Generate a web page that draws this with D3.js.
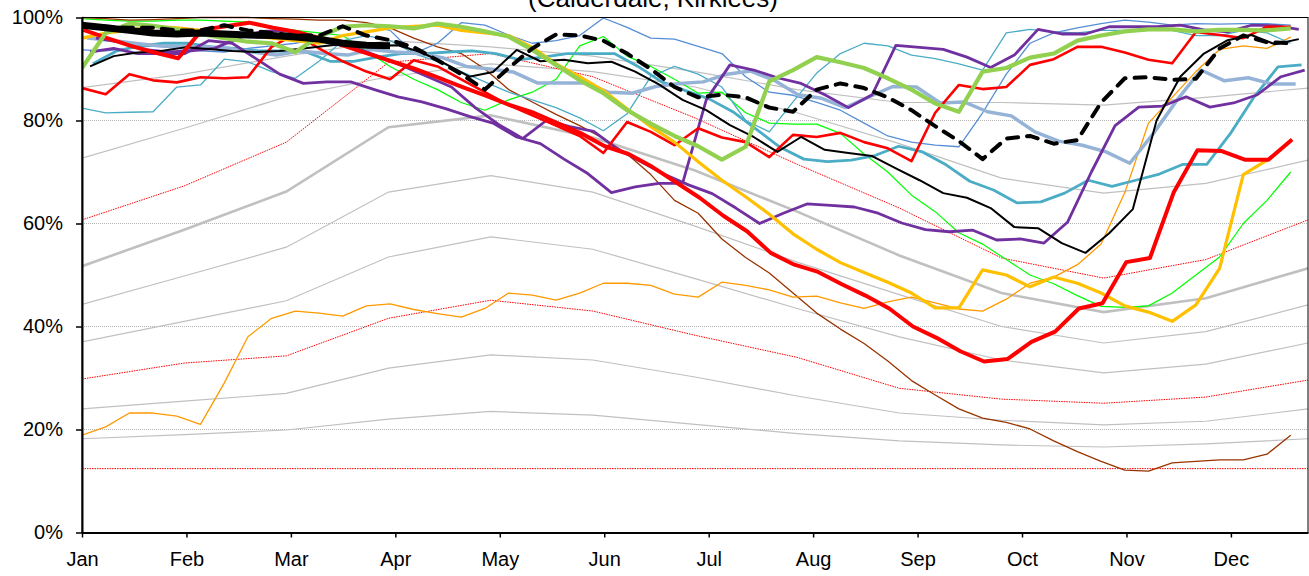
<!DOCTYPE html>
<html>
<head>
<meta charset="utf-8">
<script src="https://cdn.jsdelivr.net/npm/d3@7"></script>
<style>
  body { margin: 0; background: #fff; }
  svg { display: block; font-family: "Liberation Sans", Arial, sans-serif; }
</style>
</head>
<body>
<svg id="chart" width="1309" height="576"></svg>
<script>
// month labels, y ticks
const monthLabels = ["Jan", "Feb", "Mar", "Apr", "May", "Jun", "Jul", "Aug", "Sep", "Oct", "Nov", "Dec"];
const yTicks = [0, 20, 40, 60, 80, 100];

// reference envelope curves (13 points across the year)
const refGrayB = [86.4, 89, 92.5, 95.5, 94.3, 92.5, 89.5, 86, 83.5, 83.5, 83, 84.5, 86.3];
const refGrayC = [72.7, 78.5, 84.6, 88.5, 91, 89.5, 86.5, 81.5, 75.5, 68.8, 65.9, 67.8, 72.3];
const refMedian = [51.7, 58.8, 66.2, 78.7, 81, 76.7, 70.3, 62.3, 53.8, 46.5, 42.8, 45.5, 51.3];
const refGrayD = [44.3, 49.8, 55.4, 66.1, 69.3, 66.1, 59.5, 52.5, 46.2, 40, 36.8, 39, 44.2];
const refGrayE = [37, 41, 45, 53.5, 57.4, 55, 49.3, 43.5, 38, 33.5, 31, 32.7, 36.8];
const refGrayF = [24, 25.5, 27, 31.9, 34.5, 33.5, 30.2, 26.5, 23.2, 21.8, 20.9, 21.6, 24];
const refGrayG = [18.2, 19, 19.9, 22, 23.5, 22.8, 21, 19.2, 17.8, 17, 16.6, 17.2, 18.2];
const refRedHigh = [60.7, 67.3, 75.8, 91.3, 93, 88.5, 80.5, 71.5, 63, 53.3, 49.4, 53, 60.7];
const refRedLow = [29.8, 32.9, 34.3, 41.6, 45.1, 43, 38.3, 34, 28, 25.9, 25.1, 26.3, 29.6];
const refRedFloor = [12.4, 12.4, 12.4, 12.4, 12.4, 12.4, 12.4, 12.4, 12.4, 12.4, 12.4, 12.4, 12.4];

// weekly stock series (%)
const blackThick = [98.5, 98, 97.5, 97, 96.8, 97, 96.8, 96.6, 96.5, 96.2, 95.8, 95, 94.6, 94.5];
const blackDash = [98.5, 98.2, 98, 98, 97.5, 97.5, 98.5, 97.5, 97, 96.5, 96.5, 98.3, 96.5, 95.6, 94.2, 91.7, 89, 86, 90.2, 94, 96.7, 96.5, 95.5, 93, 90, 86.5, 84.5, 85, 84.5, 82.5, 81.7, 86, 87.2, 86.3, 84.5, 82, 78.9, 76, 72.5, 76.5, 77, 75.5, 76.2, 83.5, 88.2, 88.4, 87.9, 88.1, 94, 96.5, 95.2, 95];
const blackThin = [90.5, 92.5, 93.2, 93.5, 94.2, 93.9, 93.5, 93.3, 93.5, 94, 94.5, 95, 94.5, 94.6, 93.2, 91, 88.5, 89.4, 93.7, 91.5, 91.8, 91.1, 91.4, 89.5, 87, 84, 82, 79.1, 76.8, 73.9, 76.8, 74.3, 73.7, 73.1, 70.7, 68.4, 65.9, 65, 63, 59.3, 59.1, 56.2, 54.3, 58.1, 62.8, 80, 88.5, 93, 95.6, 96.6, 94.8, 95.8];
const redThick = [97.6, 96, 94.5, 93.2, 92.1, 97.6, 98.3, 99, 98, 97.2, 96, 94.5, 93, 91.5, 90, 88.3, 86.5, 84.8, 83, 81.5, 79.5, 77.5, 75, 73.5, 71, 68, 65, 61.5, 58.5, 54.3, 52, 50.6, 48.2, 46, 43.5, 40, 37.8, 35.2, 33.2, 33.7, 37, 39, 43.5, 44.5, 52.5, 53.3, 66, 74.2, 74.1, 72.4, 72.4, 76.3];
const redMid = [86.3, 85.1, 89, 87.8, 87.4, 88.4, 88.2, 88.4, 94.3, 96.8, 94, 91.5, 89.5, 88, 91.7, 90.5, 88, 85.5, 83, 81, 79, 77, 73.7, 79.7, 77.8, 75.2, 78.5, 76.7, 75.8, 72.9, 77.2, 76.8, 77.6, 75.8, 74.6, 72.1, 81.5, 86.9, 86.1, 86.5, 90.8, 91.9, 94.3, 94.3, 93.2, 91.8, 91.1, 97.2, 96.6, 96, 98.2, 98.2];
const yellow = [96, 97, 97.5, 98.3, 98, 97.5, 97, 96.5, 96, 95.5, 95, 96.5, 97.2, 98, 98.3, 98.5, 97.5, 97, 96.5, 94.2, 91, 88.5, 85.8, 82.3, 78.8, 75.8, 72, 68.4, 65.2, 61.8, 58, 55, 52.4, 50.5, 48.6, 46.5, 43.6, 43.6, 51, 50, 47.7, 49.6, 48.4, 46.5, 44, 42.8, 41, 44.2, 51.3, 69.5, 72.3];
const greenThick = [90.2, 97, 98.8, 98.4, 97.7, 96.8, 96, 95.3, 95, 93.3, 96.3, 98.2, 98.5, 98.3, 97.9, 98.8, 98.2, 97.3, 96.3, 93.7, 90.8, 87.8, 85.3, 82, 79.4, 77, 75, 72.4, 74.9, 87.6, 89.8, 92.3, 91.3, 90.2, 88.2, 86, 83.3, 81.7, 89.5, 90.2, 92.2, 93, 95.5, 96.5, 97.3, 97.7, 97.7, 97.3, 97.6, 97.6, 97.5, 97.9];
const lime = [99.8, 99.5, 99.3, 99.3, 99.5, 99.5, 99.3, 99.1, 98, 97.5, 97, 96.5, 93.5, 90.5, 88, 86, 83.5, 82, 84, 85.5, 88, 94.5, 96.3, 92.5, 90.5, 88, 85.3, 85.5, 81.5, 79.5, 79.3, 79.3, 77.5, 73.5, 70, 65.5, 62.3, 58.2, 56, 53, 50, 48.3, 46, 43.9, 43.7, 44, 46.5, 50, 53.5, 60, 64.5, 70];
const brown = [100, 99.8, 99.5, 99.6, 99.8, 100, 100, 100, 99.8, 99.7, 99.5, 99.5, 99, 98, 96, 94.3, 93, 90, 86, 83.6, 81.2, 79, 76.5, 73.5, 69.5, 64.5, 62, 57, 53.4, 50.4, 46.5, 42.6, 39.5, 36.7, 33.3, 29.5, 26.7, 24, 22.2, 21.4, 20.1, 17.8, 15.7, 13.8, 12.1, 11.9, 13.5, 13.8, 14.1, 14.1, 15.2, 18.9];
const orange = [18.9, 20.5, 23.2, 23.2, 22.6, 21, 29, 38, 41.6, 43, 42.6, 42, 44, 44.4, 43.3, 42.5, 41.8, 43.5, 46.5, 46.1, 45.1, 46.5, 48.4, 48.4, 48, 46.3, 45.7, 48.6, 48, 47.1, 45.7, 45.9, 44.6, 43.5, 44.8, 45.7, 44.6, 43.4, 43, 45.3, 48.4, 49.6, 52, 56, 66, 79.5, 84.5, 89.5, 93.8, 94.5, 94, 96.2];
const purpleA = [93.3, 94, 93, 93, 93, 95.5, 95, 92, 89, 87.2, 87.5, 87.5, 86, 84.6, 83.6, 82.3, 80.8, 79.5, 76.8, 75.5, 72.5, 69.7, 66, 67.1, 67.8, 67.8, 84, 90.8, 89.8, 88.3, 87.2, 85, 82.5, 85, 94.6, 94.2, 93.8, 92.3, 90.3, 92.7, 97.7, 96.8, 96.8, 98.2, 98.2, 98.2, 98.5, 97.6, 97.2, 98.5, 98.4, 97.7];
const purpleB = [96, 95.2, 93.8, 93.3, 93.5, 94, 96, 97.3, 97.5, 96, 95, 94, 92.3, 90.5, 88.5, 86.5, 82.5, 79.2, 76.5, 80, 78.8, 77.9, 74.5, 72, 69.5, 67.5, 65.8, 63, 60, 62, 63.8, 63.5, 63.2, 62, 60.1, 58.8, 58.4, 58.7, 56.8, 57, 56.2, 60.3, 70, 79, 82.6, 82.8, 84.6, 82.6, 83.4, 85, 88.5, 89.8];
const lightBlue = [96, 95.6, 95, 94.5, 94.3, 94.3, 94, 93.3, 92.7, 93.5, 93, 92.7, 93.8, 93.3, 93, 92.2, 90.5, 90, 89.4, 87.3, 87.3, 87.3, 85.5, 85.3, 86.6, 87.2, 87.5, 89, 89.6, 87.8, 85, 84.3, 82.5, 84.6, 86.6, 86.5, 83.4, 83.6, 81.7, 80.9, 77.8, 76, 75.2, 73.9, 71.7, 77.5, 84, 89.8, 87.7, 88.3, 87.1, 87.1];
const teal = [91, 93.5, 94.5, 95, 95, 94.3, 94, 93.5, 93.5, 93.3, 91.5, 91.5, 92.3, 93, 93, 93.3, 93.5, 93, 91.8, 92.3, 93, 93, 93, 90.5, 87.5, 85.8, 84.2, 81.7, 78.3, 74.8, 72.5, 72, 72.3, 73.2, 75, 73.9, 71.4, 68.2, 66.5, 64, 64.2, 65.9, 68.4, 67.2, 68.4, 69.6, 71.5, 71.5, 77.5, 84.6, 90.4, 90.8];
const tealThin = [82.4, 81.5, 81.6, 81.7, 86.5, 86.9, 91.9, 91.4, 89.5, 88.2, 91.5, 95.5, 96.5, 95.5, 93, 91.5, 89.5, 87.5, 85.5, 84, 82.5, 80.5, 78, 81.3, 88.5, 90.5, 89, 86.5, 80, 77.8, 83.6, 89.2, 93, 95, 94.5, 92.7, 92, 91, 89.8, 97, 97.7, 97.2, 97, 97.5, 97.5, 97.5, 97.5, 96.5, 96.5, 97.5, 97, 95];
const blueThin = [93.7, 93.5, 94, 94.5, 94, 93.5, 93.3, 94, 94.5, 95, 96, 98, 98.5, 97.5, 93, 95, 99, 98.5, 96.6, 95, 95.5, 96.5, 99.9, 98.1, 96, 95.8, 94.4, 93, 88.5, 85.5, 84.9, 83.5, 82, 79.5, 77, 75.8, 75.2, 74.9, 81.5, 89, 95, 97, 98, 98.8, 99.5, 99.1, 98.5, 98.8, 98.7, 98.8, 98.8, 98.5];

const svg = d3.select("#chart");
const W = 1309, H = 576;
const m = { top: 17.5, right: 1, bottom: 43.5, left: 82 };

// x in weeks; months are evenly spaced on the category axis
const xMax = 51.73;
const x = d3.scaleLinear().domain([0, xMax]).range([m.left, W - m.right]);
const y = d3.scaleLinear().domain([0, 100]).range([H - m.bottom, m.top]);
const monthPos = monthLabels.map((d, k) => k * 4.407);
const refPos = d3.range(13).map(k => k * xMax / 12);

svg.append("text")
  .attr("x", 653).attr("y", 7)
  .attr("text-anchor", "middle")
  .attr("font-size", "26px").attr("fill", "#000")
  .text("(Calderdale, Kirklees)");

// gridlines
svg.append("g").selectAll("line")
  .data([20, 40, 60, 80])
  .join("line")
  .attr("x1", x(0)).attr("x2", x(xMax))
  .attr("y1", d => y(d)).attr("y2", d => y(d))
  .attr("stroke", "#b5b5b5").attr("stroke-width", 1)
  .attr("stroke-dasharray", "1,1");

const plot = svg.append("g");
plot.append("clipPath").attr("id", "clip")
  .append("rect").attr("x", x(0)).attr("y", y(100) - 4)
  .attr("width", x(xMax) - x(0)).attr("height", y(0) - y(100) + 4);
const lines = plot.append("g").attr("clip-path", "url(#clip)");

const refLine = d3.line().x((d, i) => x(refPos[i])).y(d => y(d));

const refs = [
  { v: refGrayG, c: "#c0c0c0", w: 1.2 },
  { v: refGrayF, c: "#c0c0c0", w: 1.2 },
  { v: refGrayE, c: "#c0c0c0", w: 1.2 },
  { v: refGrayD, c: "#c0c0c0", w: 1.2 },
  { v: refGrayC, c: "#c0c0c0", w: 1.2 },
  { v: refGrayB, c: "#c0c0c0", w: 1.2 },
  { v: refMedian, c: "#c0c0c0", w: 2.6 },
  { v: refRedFloor, c: "#ff0000", w: 1, dash: "1.5,1" },
  { v: refRedLow, c: "#ff0000", w: 1, dash: "1.5,1" },
  { v: refRedHigh, c: "#ff0000", w: 1, dash: "1.5,1" }
];
refs.forEach(r => {
  lines.append("path").datum(r.v)
    .attr("d", refLine)
    .attr("fill", "none")
    .attr("stroke", r.c).attr("stroke-width", r.w)
    .attr("stroke-dasharray", r.dash || null);
});

// offset = start of the first week, in weeks
const series = [
  { v: lime, c: "#00ff00", w: 1.2, off: 0 },
  { v: brown, c: "#993300", w: 1.3, off: 0 },
  { v: orange, c: "#ff9900", w: 1.3, off: 0 },
  { v: blueThin, c: "#558ed5", w: 1.3, off: 0 },
  { v: tealThin, c: "#4bacc6", w: 1.3, off: 0 },
  { v: teal, c: "#4bacc6", w: 2.8, off: 0.46 },
  { v: lightBlue, c: "#95b3d7", w: 3.5, off: 0.21 },
  { v: purpleB, c: "#7030a0", w: 2.8, off: 0.59 },
  { v: purpleA, c: "#7030a0", w: 2.8, off: 0.34 },
  { v: redMid, c: "#ff0000", w: 2.6, off: 0 },
  { v: yellow, c: "#ffc000", w: 3.2, off: 0 },
  { v: blackThin, c: "#000000", w: 2, off: 0.34 },
  { v: redThick, c: "#ff0000", w: 4, off: 0.06 },
  { v: greenThick, c: "#92d050", w: 4.2, off: 0 },
  { v: blackDash, c: "#000000", w: 4, off: 0, dash: "11,9" },
  { v: blackThick, c: "#000000", w: 7, off: 0 }
];
series.forEach(s => {
  const line = d3.line().x((d, i) => x(i + s.off)).y(d => y(d));
  lines.append("path").datum(s.v)
    .attr("d", line)
    .attr("fill", "none")
    .attr("stroke", s.c).attr("stroke-width", s.w)
    .attr("stroke-linejoin", "round")
    .attr("stroke-linecap", s.dash ? "round" : "butt")
    .attr("stroke-dasharray", s.dash || null);
});

// frame
svg.append("rect")
  .attr("x", x(0)).attr("y", y(100))
  .attr("width", x(xMax) - x(0)).attr("height", y(0) - y(100))
  .attr("fill", "none").attr("stroke", "#000").attr("stroke-width", 1);

// axes
const yAxis = svg.append("g")
  .attr("transform", `translate(${x(0)}, 0)`)
  .call(d3.axisLeft(y).tickValues(yTicks).tickFormat(d => d + "%").tickSize(6).tickPadding(13).tickSizeOuter(0));
const xAxis = svg.append("g")
  .attr("transform", `translate(0, ${y(0)})`)
  .call(d3.axisBottom(x).tickValues(monthPos).tickFormat((d, i) => monthLabels[i]).tickSize(5).tickPadding(14).tickSizeOuter(0));

[yAxis, xAxis].forEach(a => {
  a.select(".domain").attr("stroke", "#000").attr("stroke-width", 2);
  a.selectAll(".tick line").attr("stroke", "#000").attr("stroke-width", 1.5);
  a.selectAll("text").attr("font-size", "20px").attr("fill", "#000")
    .attr("font-family", "'Liberation Sans', Arial, sans-serif");
});
</script>
</body>
</html>
